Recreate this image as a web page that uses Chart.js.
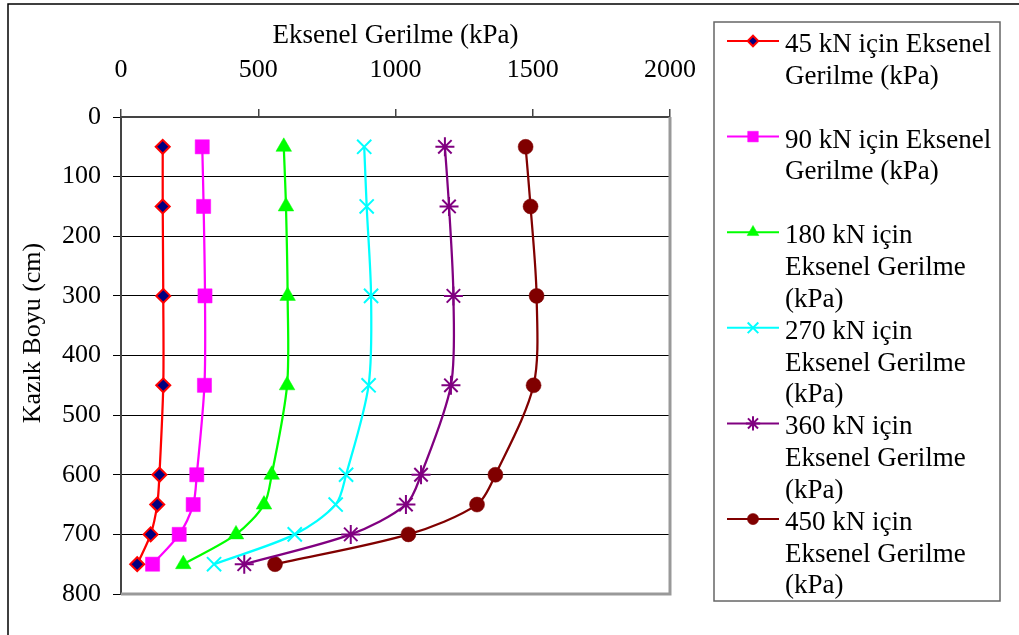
<!DOCTYPE html>
<html>
<head>
<meta charset="utf-8">
<script src="https://cdn.jsdelivr.net/npm/chart.js@4/dist/chart.umd.min.js"></script>
<style>
  html, body { margin: 0; padding: 0; background: #fff; }
  #wrap { width: 1019px; height: 635px; position: relative; }
</style>
</head>
<body>
<div id="wrap"><canvas id="c" width="1019" height="635"></canvas></div>
<script>
// ---- Data ----
const depths = [50, 150, 300, 450, 600, 650, 700, 750];
const s45  = [152, 152, 154, 154, 140, 132, 108, 59];
const s90  = [296, 301, 306, 304, 276, 263, 212, 115];
const s180 = [593, 601, 607, 605, 549, 521, 419, 227];
const s270 = [886, 895, 911, 902, 820, 782, 633, 339];
const s360 = [1180, 1195, 1211, 1202, 1093, 1038, 837, 449];
const s450 = [1474, 1492, 1514, 1503, 1364, 1297, 1047, 561];

const legendLabels = [
  ["45 kN için Eksenel", "Gerilme (kPa)"],
  ["90 kN için Eksenel", "Gerilme (kPa)"],
  ["180 kN için", "Eksenel Gerilme", "(kPa)"],
  ["270 kN için", "Eksenel Gerilme", "(kPa)"],
  ["360 kN için", "Eksenel Gerilme", "(kPa)"],
  ["450 kN için", "Eksenel Gerilme", "(kPa)"]
];
const xTitle = "Eksenel Gerilme (kPa)";
const yTitle = "Kazık Boyu (cm)";
const xTicks = [0, 500, 1000, 1500, 2000];
const yTicks = [0, 100, 200, 300, 400, 500, 600, 700, 800];

const FONT = '"Liberation Serif", "Times New Roman", serif';

function pts(vals) { return vals.map((v, i) => ({ x: v, y: depths[i] })); }

const styles = [
  { data: s45,  color: '#FF0000', bg: '#000080', ps: 'rectRot',  r: 7,   bw: 2 },
  { data: s90,  color: '#FF00FF', bg: '#FF00FF', ps: 'rect',     r: 10,  bw: 0.5 },
  { data: s180, color: '#00FF00', bg: '#00FF00', ps: 'triangle', r: 9,   bw: 0.5 },
  { data: s270, color: '#00FFFF', bg: '#00FFFF', ps: 'crossRot', r: 10,  bw: 2 },
  { data: s360, color: '#800080', bg: '#800080', ps: 'star',     r: 9.5, bw: 2 },
  { data: s450, color: '#800000', bg: '#800000', ps: 'circle',   r: 7.5, bw: 0.5 }
];

const datasets = styles.map((s, i) => ({
  label: legendLabels[i].join(' '),
  data: pts(s.data),
  showLine: true,
  borderColor: s.color,
  backgroundColor: s.bg,
  borderWidth: 2.25,
  tension: 0.3,
  pointStyle: s.ps,
  pointRadius: s.r,
  pointHoverRadius: s.r,
  pointBackgroundColor: s.bg,
  pointBorderColor: s.color,
  pointBorderWidth: s.bw
}));

function drawMarker(ctx, style, r, x, y, fill, stroke, bw) {
  ctx.save();
  ctx.fillStyle = fill; ctx.strokeStyle = stroke; ctx.lineWidth = bw;
  ctx.beginPath();
  const q = Math.SQRT1_2 * r;
  if (style === 'rectRot') {
    ctx.moveTo(x - r, y); ctx.lineTo(x, y - r); ctx.lineTo(x + r, y); ctx.lineTo(x, y + r); ctx.closePath();
    ctx.fill(); ctx.stroke();
  } else if (style === 'rect') {
    ctx.rect(x - q, y - q, 2 * q, 2 * q); ctx.fill(); ctx.stroke();
  } else if (style === 'triangle') {
    for (let k = 0; k < 3; k++) {
      const a = k * 2 * Math.PI / 3;
      const px = x + Math.sin(a) * r, py = y - Math.cos(a) * r;
      k ? ctx.lineTo(px, py) : ctx.moveTo(px, py);
    }
    ctx.closePath(); ctx.fill(); ctx.stroke();
  } else if (style === 'crossRot') {
    ctx.moveTo(x - q, y - q); ctx.lineTo(x + q, y + q);
    ctx.moveTo(x - q, y + q); ctx.lineTo(x + q, y - q); ctx.stroke();
  } else if (style === 'star') {
    ctx.moveTo(x - q, y - q); ctx.lineTo(x + q, y + q);
    ctx.moveTo(x - q, y + q); ctx.lineTo(x + q, y - q);
    ctx.moveTo(x, y - r); ctx.lineTo(x, y + r);
    ctx.moveTo(x - r, y); ctx.lineTo(x + r, y); ctx.stroke();
  } else {
    ctx.arc(x, y, r, 0, Math.PI * 2); ctx.fill(); ctx.stroke();
  }
  ctx.restore();
}

const decorPlugin = {
  id: 'decor',
  beforeDatasetsDraw(chart) {
    const { ctx, chartArea: a } = chart;
    ctx.save();
    ctx.strokeStyle = '#999999';
    ctx.lineWidth = 3;
    ctx.beginPath();
    ctx.moveTo(a.right, a.top); ctx.lineTo(a.right, a.bottom); ctx.lineTo(a.left, a.bottom);
    ctx.stroke();
    ctx.restore();
  },
  afterDraw(chart) {
    const ctx = chart.ctx;
    ctx.save();
    // outer frame
    ctx.strokeStyle = '#000'; ctx.lineWidth = 1.5;
    ctx.beginPath();
    ctx.moveTo(8, 635); ctx.lineTo(8, 4); ctx.lineTo(1019, 4);
    ctx.stroke();
    // y axis title
    ctx.save();
    ctx.translate(33, 333);
    ctx.rotate(-Math.PI / 2);
    ctx.font = '26px ' + FONT;
    ctx.fillStyle = '#000';
    ctx.textAlign = 'center';
    ctx.textBaseline = 'middle';
    ctx.fillText(yTitle, 0, 0);
    ctx.restore();
    // legend box
    ctx.strokeStyle = '#666'; ctx.lineWidth = 1.5;
    ctx.strokeRect(714, 22, 286, 579);
    ctx.font = '27px ' + FONT;
    ctx.fillStyle = '#000';
    ctx.textBaseline = 'alphabetic';
    ctx.textAlign = 'left';
    const itemStep = 95.6, lineStep = 31.7, base0 = 52;
    chart.data.datasets.forEach((ds, i) => {
      const b = base0 + i * itemStep;
      const ly = b - 11;
      ctx.strokeStyle = ds.borderColor; ctx.lineWidth = 2;
      ctx.beginPath(); ctx.moveTo(727, ly); ctx.lineTo(779, ly); ctx.stroke();
      const s = styles[i];
      drawMarker(ctx, s.ps, s.r * 0.75, 753, ly, s.bg, s.color, s.bw);
      legendLabels[i].forEach((t, j) => {
        ctx.fillText(t, 785, b + j * lineStep);
      });
    });
    ctx.restore();
  }
};

new Chart(document.getElementById('c'), {
  type: 'scatter',
  data: { datasets },
  plugins: [decorPlugin],
  options: {
    responsive: false,
    animation: false,
    events: [],
    layout: { padding: { left: 0, top: 0, right: 349, bottom: 41 } },
    plugins: { legend: { display: false }, tooltip: { enabled: false } },
    scales: {
      x: {
        type: 'linear',
        position: 'top',
        min: 0, max: 2000,
        afterFit(scale) { scale.height = 117; },
        afterBuildTicks(scale) { scale.ticks = xTicks.map(v => ({ value: v })); },
        ticks: { color: '#000', font: { family: FONT, size: 26 }, padding: 23, maxRotation: 0, callback: v => String(v) },
        grid: { drawOnChartArea: false, drawTicks: true, tickLength: 8, color: '#444', lineWidth: 1.5 },
        border: { display: true, color: '#444', width: 2 },
        title: { display: true, text: xTitle, color: '#000', font: { family: FONT, size: 27 }, padding: { top: 20, bottom: 0 } }
      },
      y: {
        type: 'linear',
        position: 'left',
        reverse: true,
        min: 0, max: 800,
        afterFit(scale) { scale.width = 121; },
        afterBuildTicks(scale) { scale.ticks = yTicks.map(v => ({ value: v })); },
        ticks: { color: '#000', font: { family: FONT, size: 26 }, padding: 12, callback: v => String(v) },
        grid: { drawOnChartArea: true, drawTicks: true, tickLength: 8, color: '#000', lineWidth: 1 },
        border: { display: true, color: '#444', width: 2 },
        title: { display: false }
      }
    }
  }
});
</script>
</body>
</html>
